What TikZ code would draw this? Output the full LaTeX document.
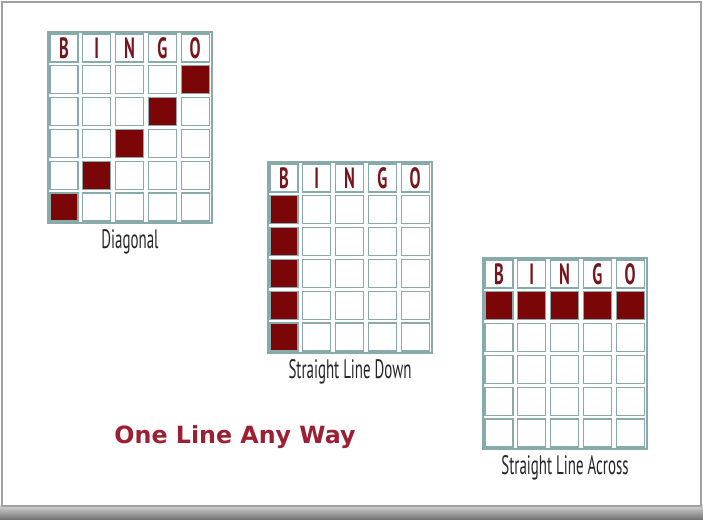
\documentclass[tikz,border=0pt]{standalone}
\usepackage{fontspec}
\usetikzlibrary{positioning}
\newfontfamily\capfont[FakeStretch=0.56]{PT Sans}
\newfontfamily\titlefont{DejaVu Sans}
\definecolor{cardred}{RGB}{122,6,8}
\definecolor{lettred}{RGB}{118,22,28}
\definecolor{titlered}{RGB}{155,32,52}
\definecolor{cellline}{RGB}{136,170,170}
\definecolor{framegray}{RGB}{160,160,160}
\tikzset{
  cell/.style={rectangle, draw=cellline, fill=white, line width=0.9pt,
    minimum size=21pt, inner sep=0pt},
  hit/.style={cell, fill=cardred},
  letter/.style={cell, font=\capfont\bfseries\fontsize{22}{22}\selectfont, text=lettred},
  cardframe/.style={draw=cellline, line width=0.8pt},
  caption/.style={font=\capfont\fontsize{20}{20}\selectfont, text=black!85}
}
\begin{document}
\begin{tikzpicture}[x=0.75pt, y=-0.75pt]
  \useasboundingbox (0,0) rectangle (703,519);
  % Page frame with shadow
  \shade[top color=black!15, bottom color=black!55] (0,505) rectangle (703,519);
  \fill[white] (2,2) rectangle (701,506);
  \draw[framegray, line width=1.5pt] (2,2) rectangle (701,506);

  % Cards
  \foreach \nm/\lx/\ty/\cap in {diag/48/32/Diagonal, down/268/162/Straight Line Down,
      across/483/258/Straight Line Across} {
    \draw[cardframe] (\lx,\ty) rectangle ({\lx+164},{\ty+191});
    \foreach \l [count=\c] in {B,I,N,G,O}
      \node[letter] (\nm-0-\c) at ({\lx+16+(\c-1)*32.8},{\ty+16}) {\l};
    \foreach \r in {1,...,5}
      \foreach \c in {1,...,5}
        \node[cell] (\nm-\r-\c) at ({\lx+16+(\c-1)*32.8},{\ty+16+\r*31.8}) {};
    \node[caption] (\nm-cap) at ({\lx+82},{\ty+210}) {\cap};
  }

  % Winning lines
  \foreach \r/\c in {1/5,2/4,3/3,4/2,5/1}
    \node[hit] at (diag-\r-\c) {};
  \foreach \r in {1,...,5}
    \node[hit] at (down-\r-1) {};
  \foreach \c in {1,...,5}
    \node[hit] at (across-1-\c) {};

  % Title
  \node[font=\titlefont\bfseries\fontsize{17.8}{18}\selectfont, text=titlered]
    (title) at (235,437) {One Line Any Way};
\end{tikzpicture}
\end{document}
